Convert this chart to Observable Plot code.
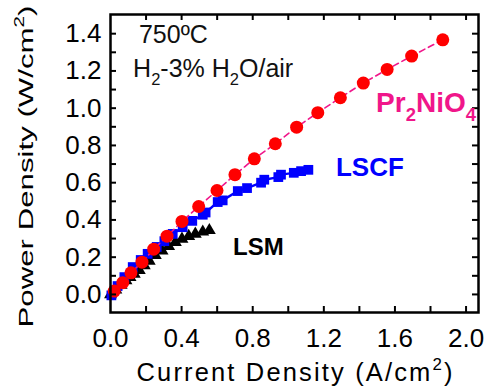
<!DOCTYPE html>
<html><head><meta charset="utf-8">
<script src="https://cdn.jsdelivr.net/npm/d3@7"></script>
<script src="https://cdn.jsdelivr.net/npm/@observablehq/plot@0.6"></script>
<style>body{margin:0;background:#fff}svg{display:block}</style>
</head><body><div id="chart"></div>
<script>
// ---- data ----
const prX = [0.021, 0.069, 0.115, 0.177, 0.243, 0.318, 0.402, 0.496, 0.599, 0.700, 0.809, 0.927, 1.047, 1.166, 1.293, 1.422, 1.556, 1.694, 1.869];
const prY = [0.018, 0.063, 0.116, 0.173, 0.243, 0.313, 0.392, 0.472, 0.558, 0.643, 0.728, 0.809, 0.898, 0.976, 1.056, 1.135, 1.208, 1.280, 1.367];

const lscfX = [0.005, 0.040, 0.078, 0.125, 0.170, 0.209, 0.260, 0.303, 0.350, 0.406, 0.460, 0.519, 0.535, 0.603, 0.631, 0.716, 0.768, 0.847, 0.865, 0.944, 0.959, 1.031, 1.072, 1.113];
const lscfY = [-0.005, 0.045, 0.093, 0.147, 0.185, 0.218, 0.255, 0.286, 0.325, 0.361, 0.395, 0.428, 0.440, 0.496, 0.505, 0.555, 0.571, 0.600, 0.616, 0.630, 0.643, 0.653, 0.662, 0.669];

const lsmX = [0.000, 0.030, 0.060, 0.087, 0.110, 0.134, 0.162, 0.190, 0.218, 0.252, 0.290, 0.327, 0.365, 0.402, 0.440, 0.477, 0.519, 0.556];
const lsmY = [0.000, 0.025, 0.050, 0.075, 0.092, 0.110, 0.130, 0.155, 0.180, 0.210, 0.235, 0.258, 0.280, 0.298, 0.312, 0.324, 0.336, 0.344];

const xTickLabels = [0.0, 0.4, 0.8, 1.2, 1.6, 2.0];
const xTickMarks = [0.2, 0.4, 0.6, 0.8, 1.0, 1.2, 1.4, 1.6, 1.8, 2.0];
const yTickLabels = [0.0, 0.2, 0.4, 0.6, 0.8, 1.0, 1.2, 1.4];
const yTickMarks = [0.0, 0.1, 0.2, 0.3, 0.4, 0.5, 0.6, 0.7, 0.8, 0.9, 1.0, 1.1, 1.2, 1.3, 1.4];

const xTitle = "Current Density (A/cm^2)";
const yTitle = "Power Density (W/cm^2)";

const annText   = ["750ºC", "H_2-3% H_2O/air", "Pr_2NiO_4", "LSCF", "LSM"];
const annX      = [0.160, 0.127, 1.494, 1.268, 0.689];
const annY      = [1.391, 1.210, 1.027, 0.683, 0.251];
const annColor  = ["#111", "#111", "#f0168a", "#0000ff", "#000"];
const annSize   = [25, 25, 28, 26, 24];
const annWeight = ["normal", "normal", "bold", "bold", "bold"];

// ---- layout ----
const W = 485, H = 389, ML = 110, MR = 7, MT = 14, MB = 77;
const FW = W - ML - MR, FH = H - MT - MB, TL = 6;

const pr = prX.map((x, i) => ({x, y: prY[i]}));
const lscf = lscfX.map((x, i) => ({x, y: lscfY[i]}));
const lsm = lsmX.map((x, i) => ({x, y: lsmY[i]}));
const fmt = d3.format(".1f");

const chart = Plot.plot({
  width: W, height: H,
  marginLeft: ML, marginRight: MR, marginTop: MT, marginBottom: MB,
  style: {fontFamily: "'Liberation Sans', Arial, sans-serif", background: "#fff", color: "#000"},
  x: {domain: [0, 2.07]},
  y: {domain: [-0.097, 1.503]},
  marks: [
    Plot.line(lsm, {x: "x", y: "y", stroke: "#000", strokeWidth: 1.5}),
    Plot.dot(lsm, {x: "x", y: "y", symbol: "triangle", r: 4.8, fill: "#000"}),
    Plot.line(lscf, {x: "x", y: "y", stroke: "#0000ff", strokeWidth: 2.4}),
    Plot.dot(lscf, {x: "x", y: "y", symbol: "square", r: 5.5, fill: "#0000ff"}),
    Plot.line(pr, {x: "x", y: "y", stroke: "#f0168a", strokeWidth: 1.6, strokeDasharray: "6,4"}),
    Plot.dot(pr, {x: "x", y: "y", r: 6.5, fill: "#ff0000"}),
    // inward ticks on all four sides
    Plot.tickX(xTickMarks, {x: d => d, insetTop: FH - TL, strokeWidth: 2}),
    Plot.tickX(xTickMarks, {x: d => d, insetBottom: FH - TL, strokeWidth: 2}),
    Plot.tickY(yTickMarks, {y: d => d, insetRight: FW - TL, strokeWidth: 2}),
    Plot.tickY(yTickMarks, {y: d => d, insetLeft: FW - TL, strokeWidth: 2}),
    Plot.frame({stroke: "#000", strokeWidth: 2.5}),
    Plot.axisX(xTickLabels, {tickSize: 0, tickPadding: 16, tickFormat: fmt, label: null, fontSize: 26}),
    Plot.axisY(yTickLabels, {tickSize: 0, tickPadding: 9, tickFormat: fmt, label: null, fontSize: 26}),
    Plot.text([xTitle], {frameAnchor: "bottom", lineAnchor: "middle", dy: 60, fontSize: 25.5, textAnchor: "middle"}),
    Plot.text([yTitle], {frameAnchor: "left", lineAnchor: "middle", rotate: -90, dx: -84, dy: 3, fontSize: 21, textAnchor: "middle"}),
    ...annText.map((t, i) => Plot.text([t], {
      x: () => annX[i], y: () => annY[i], textAnchor: "start", lineAnchor: "middle",
      fill: annColor[i], fontSize: annSize[i], fontWeight: annWeight[i]
    }))
  ]
});

// rich text: _c = subscript, ^c = superscript
const NS = "http://www.w3.org/2000/svg";
function richify(el, markup) {
  const parts = [];
  let buf = "";
  for (let i = 0; i < markup.length; i++) {
    const c = markup[i];
    if ((c === "_" || c === "^") && i + 1 < markup.length) {
      if (buf) parts.push({s: buf, k: "n"});
      buf = "";
      parts.push({s: markup[i + 1], k: c === "_" ? "sub" : "sup"});
      i++;
    } else buf += c;
  }
  if (buf) parts.push({s: buf, k: "n"});
  el.textContent = "";
  let shift = 0;
  for (const p of parts) {
    const t = document.createElementNS(NS, "tspan");
    t.textContent = p.s;
    const target = p.k === "sub" ? 0.33 : p.k === "sup" ? -0.42 : 0;
    const delta = target - shift;
    if (p.k === "n") { if (delta) t.setAttribute("dy", delta.toFixed(3) + "em"); }
    else { t.setAttribute("font-size", "66%"); if (delta) t.setAttribute("dy", (delta / 0.66).toFixed(3) + "em"); }
    shift = target;
    el.appendChild(t);
  }
}
for (const el of chart.querySelectorAll("text")) {
  const s = el.textContent;
  if (s === xTitle) {
    richify(el, s);
    el.setAttribute("textLength", 316); el.setAttribute("lengthAdjust", "spacing");
  } else if (s === yTitle) {
    richify(el, s);
    el.setAttribute("textLength", 322); el.setAttribute("lengthAdjust", "spacingAndGlyphs");
  } else if (/[_^]/.test(s)) {
    richify(el, s);
  }
}
document.getElementById("chart").appendChild(chart);
</script>
</body></html>
